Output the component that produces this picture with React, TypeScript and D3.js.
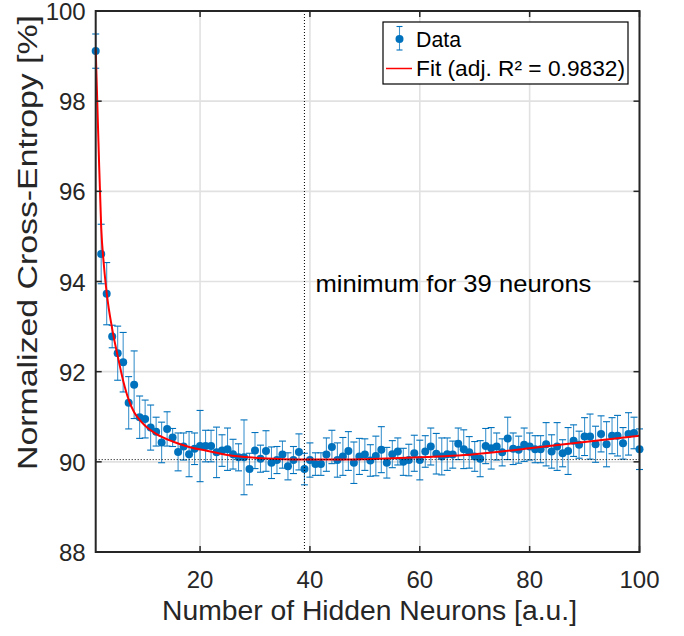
import React from "react";
import * as d3 from "d3";

const neurons: number[] = Array.from({ length: 100 }, (_, i) => i + 1);

const entropy: number[] = [
  99.11, 94.61, 93.73, 92.78, 92.41, 92.21, 91.31, 91.71, 90.99, 90.95,
  90.76, 90.67, 90.43, 90.73, 90.54, 90.22, 90.34, 90.17, 90.29, 90.35,
  90.35, 90.35, 90.21, 90.25, 90.28, 90.17, 90.10, 90.10, 89.84, 90.25,
  90.07, 90.24, 89.98, 90.04, 90.16, 89.90, 90.04, 90.22, 89.84, 90.04,
  89.95, 89.95, 90.16, 90.33, 90.04, 90.12, 90.24, 89.98, 90.12, 90.16,
  90.03, 90.13, 90.27, 89.98, 90.17, 90.23, 90.00, 90.04, 90.19, 90.04,
  90.23, 90.34, 90.18, 90.12, 90.17, 90.16, 90.40, 90.28, 90.21, 90.12,
  90.07, 90.35, 90.30, 90.34, 90.21, 90.52, 90.29, 90.27, 90.38, 90.34,
  90.28, 90.28, 90.39, 90.23, 90.34, 90.19, 90.24, 90.47, 90.38, 90.56,
  90.56, 90.39, 90.62, 90.39, 90.58, 90.58, 90.41, 90.62, 90.64, 90.28,
];

const errors: number[] = [
  0.38, 0.66, 0.69, 0.25, 0.60, 0.66, 0.58, 0.75, 0.47, 0.42,
  0.50, 0.32, 0.45, 0.38, 0.20, 0.42, 0.30, 0.50, 0.35, 0.79,
  0.35, 0.35, 0.56, 0.35, 0.47, 0.33, 0.30, 0.83, 0.35, 0.40,
  0.30, 0.45, 0.35, 0.30, 0.30, 0.30, 0.30, 0.40, 0.35, 0.38,
  0.25, 0.25, 0.37, 0.37, 0.38, 0.42, 0.43, 0.46, 0.40, 0.35,
  0.35, 0.44, 0.51, 0.34, 0.30, 0.30, 0.30, 0.35, 0.40, 0.44,
  0.35, 0.41, 0.45, 0.41, 0.36, 0.30, 0.35, 0.43, 0.35, 0.33,
  0.40, 0.39, 0.46, 0.30, 0.30, 0.47, 0.35, 0.30, 0.37, 0.30,
  0.30, 0.30, 0.48, 0.37, 0.53, 0.30, 0.52, 0.35, 0.30, 0.42,
  0.50, 0.40, 0.40, 0.50, 0.40, 0.45, 0.35, 0.47, 0.35, 0.45,
];

const fitX: number[] = [1, 1.5, 2, 2.5, 3, 4, 5, 6, 7, 8, 9, 10, 12, 15, 18, 21, 25, 30, 35, 40, 45, 50, 60, 70, 80, 90, 100];
const fitY: number[] = [99.15, 97.1, 95.2, 94.35, 93.75, 92.95, 92.35, 91.8, 91.38, 91.1, 90.93, 90.8, 90.62, 90.45, 90.33, 90.25, 90.15, 90.09, 90.06, 90.05, 90.05, 90.06, 90.1, 90.17, 90.3, 90.44, 90.58];

const xTicks: number[] = [20, 40, 60, 80, 100];
const yTicks: number[] = [88, 90, 92, 94, 96, 98, 100];
const minNeurons = 39;
const minValue = 90.05;
const legendLabels: string[] = ["Data", "Fit (adj. R\u00B2 = 0.9832)"];
const xLabel = "Number of Hidden Neurons [a.u.]";
const yLabel = "Normalized Cross-Entropy [%]";
const annotation = "minimum for 39 neurons";

const W = 684;
const H = 636;
const L = 95.7, R = 639.5, T = 11, B = 552;
const FONT = "'Liberation Sans', Arial, Helvetica, sans-serif";
const BLUE = "#0072BD";
const AX = "#262626";

export default function App() {
  const x = d3.scaleLinear().domain([1, 100]).range([L, R]);
  const y = d3.scaleLinear().domain([88, 100]).range([B, T]);
  const fitLine = d3
    .line<number>()
    .x((_, i) => x(fitX[i]))
    .y((d) => y(d))
    .curve(d3.curveMonotoneX)(fitY) as string;

  const tick = 6;
  const cap = 3.5;

  return (
    <div style={{ position: "absolute", left: 0, top: 0 }}>
      <svg width={W} height={H} style={{ display: "block", background: "#fff" }} fontFamily={FONT}>
        <rect x={0} y={0} width={W} height={H} fill="#fff" />
        <rect x={L} y={T} width={R - L} height={B - T} fill="#fff" />
        {/* grid */}
        {xTicks.map((t) => (
          <line key={"gx" + t} x1={x(t)} x2={x(t)} y1={T} y2={B} stroke="#e1e1e1" strokeWidth={1.6} />
        ))}
        {yTicks.map((t) => (
          <line key={"gy" + t} x1={L} x2={R} y1={y(t)} y2={y(t)} stroke="#e1e1e1" strokeWidth={1.6} />
        ))}
        {/* error bars */}
        {neurons.map((n, i) => {
          const cx = x(n);
          const top = y(entropy[i] + errors[i]);
          const bot = y(entropy[i] - errors[i]);
          return (
            <g key={"e" + n} stroke={BLUE}>
              <line x1={cx} x2={cx} y1={top} y2={bot} strokeWidth={1.1} strokeOpacity={0.75} />
              <line x1={cx - cap} x2={cx + cap} y1={top} y2={top} strokeWidth={1.1} />
              <line x1={cx - cap} x2={cx + cap} y1={bot} y2={bot} strokeWidth={1.1} />
            </g>
          );
        })}
        {neurons.map((n, i) => (
          <circle key={"c" + n} cx={x(n)} cy={y(entropy[i])} r={4} fill={BLUE} />
        ))}
        {/* fit */}
        <path d={fitLine} fill="none" stroke="#ff0000" strokeWidth={2} />
        {/* dotted reference lines */}
        <line x1={x(minNeurons)} x2={x(minNeurons)} y1={T} y2={B} stroke="#000" strokeWidth={1} strokeDasharray="1,2" />
        <line x1={L} x2={R} y1={y(minValue)} y2={y(minValue)} stroke="#000" strokeWidth={1} strokeDasharray="1,2" />
        {/* axes box */}
        <rect x={L} y={T} width={R - L} height={B - T} fill="none" stroke={AX} strokeWidth={2} />
        {xTicks.map((t) => (
          <g key={"tx" + t} stroke={AX} strokeWidth={1.5}>
            <line x1={x(t)} x2={x(t)} y1={B} y2={B - tick} />
            <line x1={x(t)} x2={x(t)} y1={T} y2={T + tick} />
          </g>
        ))}
        {yTicks.map((t) => (
          <g key={"ty" + t} stroke={AX} strokeWidth={1.5}>
            <line x1={L} x2={L + tick} y1={y(t)} y2={y(t)} />
            <line x1={R} x2={R - tick} y1={y(t)} y2={y(t)} />
          </g>
        ))}
        {xTicks.map((t) => (
          <text key={"lx" + t} x={x(t)} y={B + 36} textAnchor="middle" fontSize={24} fill={AX}>
            {t}
          </text>
        ))}
        {yTicks.map((t) => (
          <text key={"ly" + t} x={L - 10} y={y(t) + 9} textAnchor="end" fontSize={24} fill={AX}>
            {t}
          </text>
        ))}
        <text
          x={(162 + 577) / 2}
          y={620}
          textAnchor="middle"
          fontSize={27}
          fill={AX}
          textLength={415}
          lengthAdjust="spacingAndGlyphs"
        >
          {xLabel}
        </text>
        <text
          transform={`translate(${37},${242.5}) rotate(-90)`}
          textAnchor="middle"
          fontSize={27}
          fill={AX}
          textLength={455}
          lengthAdjust="spacingAndGlyphs"
        >
          {yLabel}
        </text>
        <text
          x={x(minNeurons) + 11}
          y={292}
          fontSize={24}
          fill="#000"
          textLength={276}
          lengthAdjust="spacingAndGlyphs"
        >
          {annotation}
        </text>
        {/* legend */}
        <g>
          <rect x={383} y={22} width={245} height={62} fill="#fff" stroke="#000" strokeWidth={1.2} />
          <g stroke={BLUE}>
            <line x1={399.5} x2={399.5} y1={26.5} y2={50} strokeWidth={1.1} strokeOpacity={0.75} />
            <line x1={396.5} x2={402.5} y1={26.5} y2={26.5} strokeWidth={1.1} />
            <line x1={396.5} x2={402.5} y1={50} y2={50} strokeWidth={1.1} />
          </g>
          <circle cx={399.5} cy={39} r={4} fill={BLUE} />
          <text x={416} y={47} fontSize={22} fill="#000" textLength={45} lengthAdjust="spacingAndGlyphs">
            {legendLabels[0]}
          </text>
          <line x1={386} x2={412} y1={68.5} y2={68.5} stroke="#ff0000" strokeWidth={1.5} />
          <text x={416} y={76} fontSize={22.5} fill="#000" textLength={209} lengthAdjust="spacingAndGlyphs">
            {legendLabels[1]}
          </text>
        </g>
      </svg>
    </div>
  );
}
